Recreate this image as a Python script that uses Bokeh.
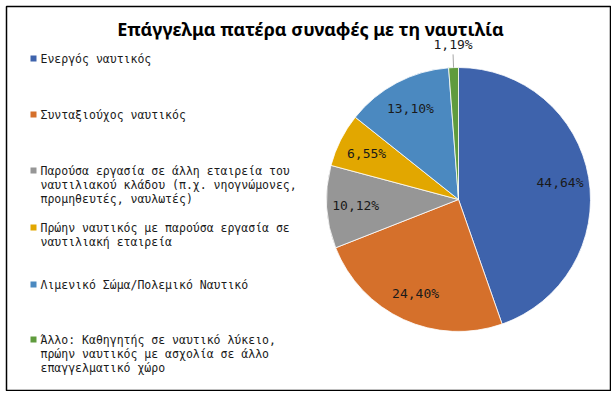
import numpy as np
from bokeh.plotting import figure
from bokeh.models import ColumnDataSource, Label
from bokeh.core.properties import value
from bokeh.embed import file_html
from bokeh.resources import INLINE

title = "Επάγγελμα πατέρα συναφές με τη ναυτιλία"
categories = [
    "Ενεργός ναυτικός",
    "Συνταξιούχος ναυτικός",
    "Παρούσα εργασία σε άλλη εταιρεία του\nναυτιλιακού κλάδου (π.χ. νηογνώμονες,\nπρομηθευτές, ναυλωτές)",
    "Πρώην ναυτικός με παρούσα εργασία σε\nναυτιλιακή εταιρεία",
    "Λιμενικό Σώμα/Πολεμικό Ναυτικό",
    "Άλλο: Καθηγητής σε ναυτικό λύκειο,\nπρώην ναυτικός με ασχολία σε άλλο\nεπαγγελματικό χώρο",
]
percents = [44.64, 24.40, 10.12, 6.55, 13.10, 1.19]
colors = ["#3E63AC", "#D5702B", "#969696", "#E2A700", "#4B89C0", "#5F9B3D"]

W, H = 611, 391
p = figure(width=W, height=H, x_range=(0, W), y_range=(0, H), min_border=0,
           output_backend="svg", toolbar_location=None)
p.axis.visible = False
p.grid.visible = False
p.outline_line_color = None
p.background_fill_color = "white"
p.border_fill_color = "white"

# chart frame
p.quad(left=6, right=610, bottom=H - 390, top=H - 6, fill_color="white",
       line_color="black", line_width=1.5)

# pie
cx, cy, r = 458, H - 199, 132
vals = np.array(percents, dtype=float)
frac = vals / vals.sum()
ang = frac * 2 * np.pi
cum = np.concatenate([[0], np.cumsum(ang)])
start = np.pi / 2 - cum[:-1]
end = np.pi / 2 - cum[1:]
mid = (start + end) / 2
src = ColumnDataSource(dict(start=end, end=start, color=colors))
p.wedge(x=cx, y=cy, radius=r, start_angle="start", end_angle="end",
        fill_color="color", line_color="white", line_width=0.8, source=src)

labels = [f"{v:.2f}%".replace(".", ",") for v in percents]
inside = [v >= 3 for v in percents]
lx, ly, lt = [], [], []
ox, oy, ot = [], [], []
for i, v in enumerate(percents):
    if inside[i]:
        lx.append(cx + 0.78 * r * np.cos(mid[i]))
        ly.append(cy + 0.78 * r * np.sin(mid[i]))
        lt.append(labels[i])
    else:
        x0 = cx + r * np.cos(mid[i]); y0 = cy + r * np.sin(mid[i])
        x1 = cx + 1.1 * r * np.cos(mid[i]); y1 = cy + 1.1 * r * np.sin(mid[i])
        p.line([x0, x1], [y0, y1], line_color="#A6A6A6", line_width=1)
        ox.append(x1); oy.append(y1 + 2); ot.append(labels[i])
p.text(x=lx, y=ly, text=lt, text_align="center", text_baseline="middle",
       text_font=value("DejaVu Sans Mono"), text_font_size="13px", text_color="#1a1a1a")
p.text(x=ox, y=oy, text=ot, text_align="center", text_baseline="bottom",
       text_font=value("DejaVu Sans Mono"), text_font_size="13px", text_color="#1a1a1a")

# legend
leg_y = [H - 58, H - 114, H - 170, H - 227, H - 284, H - 339]
p.scatter(x=[33] * len(categories), y=leg_y, marker="square", size=6,
          fill_color=colors, line_color=None)
p.text(x=[40] * len(categories), y=[yy + 7 for yy in leg_y], text=categories,
       text_align="left", text_baseline="top", text_line_height=1.0,
       text_font=value("DejaVu Sans Mono"), text_font_size="11.5px", text_color="#1a1a1a")

p.add_layout(Label(x=310, y=H - 28, text=title, text_align="center", text_baseline="middle",
                   text_font="Noto Sans", text_font_style="bold", text_font_size="18px",
                   text_color="black"))

open("out.html", "w").write(file_html(p, INLINE))
